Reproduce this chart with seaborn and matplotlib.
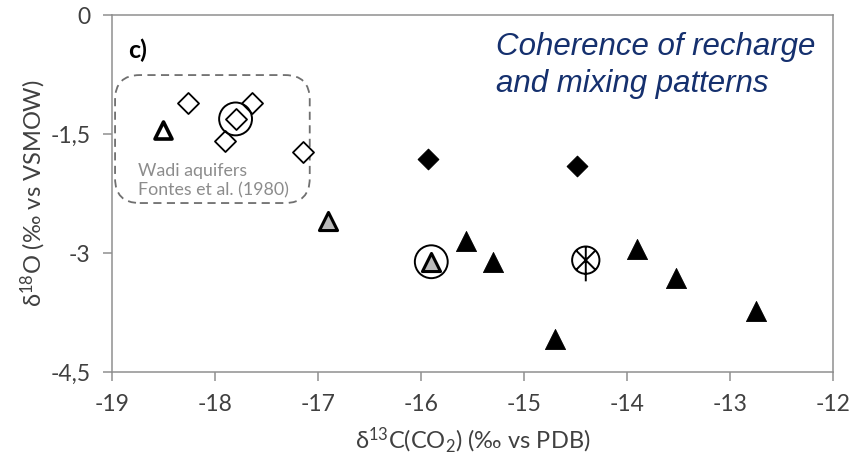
import numpy as np
import pandas as pd
import matplotlib
matplotlib.use("Agg")
import matplotlib.pyplot as plt
import seaborn as sns
from matplotlib.path import Path
from matplotlib.patches import FancyBboxPatch

# delta13C(CO2) (permil vs PDB) and delta18O (permil vs VSMOW) per sample group
wadi_d13c = [-18.26, -17.64, -17.90, -17.15, -17.80]
wadi_d18o = [-1.11, -1.11, -1.59, -1.73, -1.31]

open_tri_d13c = [-18.50]
open_tri_d18o = [-1.45]

filled_dia_d13c = [-15.93, -14.49]
filled_dia_d18o = [-1.82, -1.90]

gray_tri_d13c = [-16.90, -15.90]
gray_tri_d18o = [-2.60, -3.11]

black_tri_d13c = [-15.56, -15.30, -14.70, -13.90, -13.52, -12.75]
black_tri_d18o = [-2.85, -3.11, -4.09, -2.95, -3.32, -3.73]

star_d13c = [-14.40]
star_d18o = [-3.09]

# samples highlighted with a ring
ring_d13c = [-17.80, -15.90]
ring_d18o = [-1.31, -3.11]

x_ticks = [-19, -18, -17, -16, -15, -14, -13, -12]
y_ticks = [0, -1.5, -3, -4.5]
y_tick_labels = ["0", "-1,5", "-3", "-4,5"]

sns.set_theme(style="white")
plt.rcParams["font.family"] = ["Lato", "DejaVu Sans"]
plt.rcParams["mathtext.fontset"] = "custom"
plt.rcParams["mathtext.rm"] = "Lato"
plt.rcParams["mathtext.it"] = "Lato:italic"

fig = plt.figure(figsize=(8.64, 4.69), dpi=100)
ax = fig.add_axes([0.1296, 0.2068, 0.8345, 0.7612])

def frame(xs, ys):
    return pd.DataFrame({"d13c": xs, "d18o": ys})

# open diamonds: wadi aquifers
sns.scatterplot(data=frame(wadi_d13c, wadi_d18o), x="d13c", y="d18o", ax=ax,
                marker="D", s=115, color="white", edgecolor="black",
                linewidth=1.3, zorder=3, legend=False)
# open triangle with heavy outline
sns.scatterplot(data=frame(open_tri_d13c, open_tri_d18o), x="d13c", y="d18o", ax=ax,
                marker="^", s=150, color="white", edgecolor="black",
                linewidth=2.6, zorder=3, legend=False)
# filled diamonds
sns.scatterplot(data=frame(filled_dia_d13c, filled_dia_d18o), x="d13c", y="d18o", ax=ax,
                marker="D", s=110, color="black", edgecolor="black",
                linewidth=0.8, zorder=3, legend=False)
# grey triangles
sns.scatterplot(data=frame(gray_tri_d13c, gray_tri_d18o), x="d13c", y="d18o", ax=ax,
                marker="^", s=170, color="#bababa", edgecolor="black",
                linewidth=2.2, zorder=3, legend=False)
# black triangles
sns.scatterplot(data=frame(black_tri_d13c, black_tri_d18o), x="d13c", y="d18o", ax=ax,
                marker="^", s=210, color="black", edgecolor="black",
                linewidth=0.6, zorder=3, legend=False)

# circled cross with a stem
d = np.sqrt(0.5)
circ = Path.circle((0, 0), 1.0)
strokes = Path([(-d, -d), (d, d), (-d, d), (d, -d), (0, 1), (0, -1.55)],
               [Path.MOVETO, Path.LINETO, Path.MOVETO, Path.LINETO,
                Path.MOVETO, Path.LINETO])
star_marker = Path.make_compound_path(circ, strokes)
sns.scatterplot(data=frame(star_d13c, star_d18o), x="d13c", y="d18o", ax=ax,
                marker=star_marker, s=930, color="none", edgecolor="black",
                linewidth=1.4, zorder=4, legend=False)

# rings around highlighted samples
sns.scatterplot(data=frame(ring_d13c, ring_d18o), x="d13c", y="d18o", ax=ax,
                marker="o", s=560, color="none", edgecolor="black",
                linewidth=1.4, zorder=4, legend=False)

# dashed rounded frame around the wadi group
box = FancyBboxPatch((-18.97, -2.37), 1.89, 1.613,
                     boxstyle="round,pad=0,rounding_size=0.24",
                     mutation_aspect=1.3, transform=ax.transData,
                     fill=False, edgecolor="#6f6f6f", linewidth=1.3,
                     linestyle=(0, (4.5, 3)), zorder=2)
ax.add_patch(box)
ax.text(-18.75, -2.09, "Wadi aquifers\nFontes et al. (1980)", color="#8c8c8c",
        fontsize=12.8, ha="left", va="center", linespacing=1.2, zorder=3)

ax.text(-18.84, -0.45, "c)", fontsize=18, fontweight="bold", color="black",
        ha="left", va="center")
ax.text(-15.27, -0.64, "Coherence of recharge\nand mixing patterns",
        fontsize=22.5, fontstyle="italic", color="#15306e",
        family=["Liberation Sans", "DejaVu Sans"], ha="left", va="center",
        linespacing=1.32)

ax.set_xlim(-19, -12)
ax.set_ylim(-4.5, 0)
ax.set_xticks(x_ticks)
ax.set_xticklabels([str(v) for v in x_ticks])
ax.set_yticks(y_ticks)
ax.set_yticklabels(y_tick_labels)

for sp in ax.spines.values():
    sp.set_visible(True)
    sp.set_color("#8f8f8f")
    sp.set_linewidth(1.1)

ax.tick_params(axis="both", which="major", direction="out", length=6.5,
               width=1.1, color="#8f8f8f", labelsize=16.5, labelcolor="#404040",
               bottom=True, left=True, top=False, right=False)
ax.tick_params(axis="x", pad=9)
ax.tick_params(axis="y", pad=9)

ax.set_xlabel("δ$^{13}$C(CO$_{2}$) (‰ vs PDB)", fontsize=17, color="#404040",
              labelpad=8)
ax.set_ylabel("δ$^{18}$O (‰ vs VSMOW)", fontsize=17, color="#404040",
              labelpad=2)

fig.savefig("out.png", dpi=100)
